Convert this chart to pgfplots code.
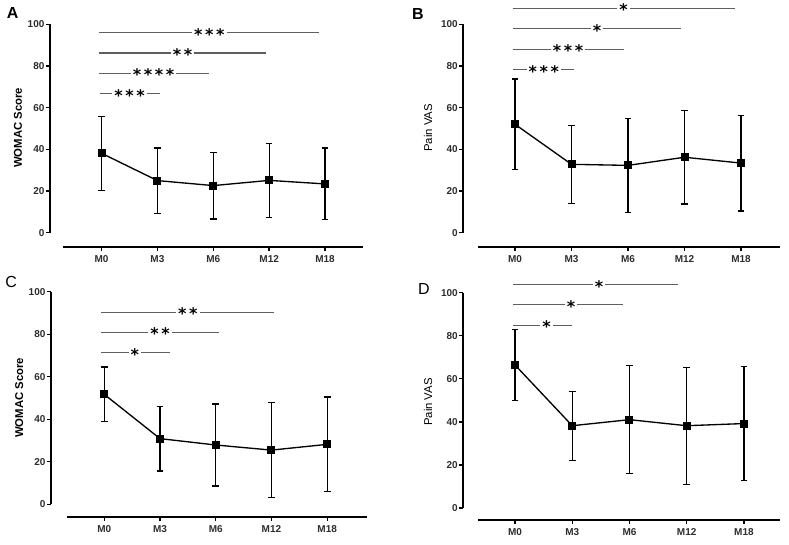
\documentclass[border=0pt]{standalone}
\usepackage{fontspec}
\setmainfont{Liberation Sans}
\newfontfamily\starfont{DejaVu Sans}
\usepackage{pgfplots}
\pgfplotsset{compat=1.18}
\definecolor{siggray}{RGB}{95,95,95}
\definecolor{labgray}{RGB}{45,45,45}
\pgfplotsset{
  panel/.style={
    anchor=south west, scale only axis, clip=false,
    axis x line*=bottom, axis y line*=left,
    axis line style={draw=none},
    xtick={0,1,2,3,4}, xticklabels={M0,M3,M6,M12,M18},
    ytick={0,20,40,60,80,100},
    ymax=100,
    tick align=outside, major tick length=3pt,
    tick style={black, line width=1pt},
    /pgf/number format/assume math mode=true,
    tick label style={font=\bfseries\fontsize{7.5}{8}\selectfont, text=labgray},
    yticklabel style={inner xsep=1pt},
    ylabel style={anchor=center},
  },
  dataline/.style={black, line width=1pt, mark=square*, mark size=2.5pt,
    mark options={solid, fill=black},
    error bars/.cd, y dir=both, y explicit,
    error bar style={line width=0.9pt, black},
    error mark options={rotate=90, mark size=2.5pt, line width=0.9pt, black}},
}
\newcommand{\sig}[5]{%
  \draw[siggray, line width=0.8pt] (axis cs:#1,#3) -- (axis cs:#2,#3);
  \node[fill=white, inner xsep=1.5pt, inner ysep=0pt, anchor=base, yshift=-0.56em,
        font=\starfont\bfseries\fontsize{12}{12}\selectfont, text=black]
        at (axis cs:#4,#3) {#5};}
\begin{document}
\begin{tikzpicture}
\path[use as bounding box] (0,0) rectangle (591.75pt,-408.75pt);
% Panel labels
\node[inner sep=0pt, font=\bfseries\fontsize{12}{12}\selectfont] at (9.4pt,-10pt) {A};
\node[inner sep=0pt, font=\bfseries\fontsize{12}{12}\selectfont] at (313.5pt,-10.5pt) {B};
\node[inner sep=0pt, font=\fontsize{12}{12}\selectfont] at (8.3pt,-211.5pt) {C};
\node[inner sep=0pt, font=\fontsize{12}{12}\selectfont] at (318pt,-216.8pt) {D};

% ---------- A ----------
\begin{axis}[panel, at={(37.5pt,-185pt)}, width=234.75pt, height=166.8pt,
  xmin=-0.923, xmax=4.68, ymin=-6.7,
  ylabel={WOMAC Score},
  ylabel style={at={(axis description cs:-0.102,0.534)}, font=\bfseries\fontsize{8.5}{9}\selectfont}]
\draw[black, line width=1.5pt] (axis cs:-0.69,-6.7) -- (axis cs:4.68,-6.7);
\draw[black, line width=1.5pt] (axis cs:-0.923,0) -- (axis cs:-0.923,100);
\addplot+[dataline] coordinates {
  (0,38.1) +- (0,17.7)
  (1,25.0) +- (0,15.6)
  (2,22.6) +- (0,16.0)
  (3,25.1) +- (0,17.8)
  (4,23.4) +- (0,17.2)
};
\sig{-0.05}{3.90}{96.0}{1.93}{*\,*\,*}
\sig{-0.05}{2.95}{86.2}{1.45}{*\,*}
\sig{-0.05}{1.93}{76.5}{0.93}{*\,*\,*\,*}
\sig{-0.02}{1.04}{66.6}{0.50}{*\,*\,*}
\end{axis}

% ---------- B ----------
\begin{axis}[panel, at={(347.5pt,-185pt)}, width=237.5pt, height=166.8pt,
  xmin=-0.915, xmax=4.69, ymin=-6.7,
  ylabel={Pain VAS},
  ylabel style={at={(axis description cs:-0.111,0.534)}, font=\fontsize{8.5}{9}\selectfont}]
\draw[black, line width=1.5pt] (axis cs:-0.65,-6.7) -- (axis cs:4.69,-6.7);
\draw[black, line width=1.5pt] (axis cs:-0.915,0) -- (axis cs:-0.915,100);
\addplot+[dataline] coordinates {
  (0,52.0) +- (0,21.7)
  (1,32.8) +- (0,18.6)
  (2,32.3) +- (0,22.5)
  (3,36.2) +- (0,22.4)
  (4,33.4) +- (0,23.0)
};
\sig{-0.04}{3.89}{107.7}{1.92}{*}
\sig{-0.04}{2.93}{97.8}{1.45}{*}
\sig{-0.04}{1.93}{88.0}{0.94}{*\,*\,*}
\sig{-0.04}{1.04}{78.1}{0.51}{*\,*\,*}
\end{axis}

% ---------- C ----------
\begin{axis}[panel, at={(38.25pt,-387.5pt)}, width=236.8pt, height=168.75pt,
  xmin=-0.956, xmax=4.71, ymin=-5.8,
  ylabel={WOMAC Score},
  ylabel style={at={(axis description cs:-0.101,0.528)}, font=\bfseries\fontsize{8.5}{9}\selectfont}]
\draw[black, line width=1.5pt] (axis cs:-0.67,-5.8) -- (axis cs:4.71,-5.8);
\draw[black, line width=1.5pt] (axis cs:-0.956,0) -- (axis cs:-0.956,100);
\addplot+[dataline] coordinates {
  (0,51.7) +- (0,12.9)
  (1,30.9) +- (0,15.2)
  (2,27.9) +- (0,19.3)
  (3,25.5) +- (0,22.4)
  (4,28.2) +- (0,22.3)
};
\sig{-0.06}{3.04}{90.3}{1.50}{*\,*}
\sig{-0.06}{2.05}{81.0}{1.00}{*\,*}
\sig{-0.06}{1.18}{71.3}{0.55}{*}
\end{axis}

% ---------- D ----------
\begin{axis}[panel, at={(347.5pt,-390pt)}, width=237.5pt, height=170.5pt,
  xmin=-0.903, xmax=4.63, ymin=-5.6,
  ylabel={Pain VAS},
  ylabel style={at={(axis description cs:-0.111,0.519)}, font=\fontsize{8.5}{9}\selectfont}]
\draw[black, line width=1.5pt] (axis cs:-0.64,-5.6) -- (axis cs:4.63,-5.6);
\draw[black, line width=1.5pt] (axis cs:-0.903,0) -- (axis cs:-0.903,100);
\addplot+[dataline] coordinates {
  (0,66.4) +- (0,16.4)
  (1,38.2) +- (0,16.0)
  (2,41.0) +- (0,25.0)
  (3,38.2) +- (0,27.2)
  (4,39.2) +- (0,26.5)
};
\sig{-0.03}{2.85}{103.7}{1.47}{*}
\sig{-0.03}{1.89}{94.4}{0.98}{*}
\sig{-0.03}{0.99}{84.8}{0.55}{*}
\end{axis}
\end{tikzpicture}
\end{document}
